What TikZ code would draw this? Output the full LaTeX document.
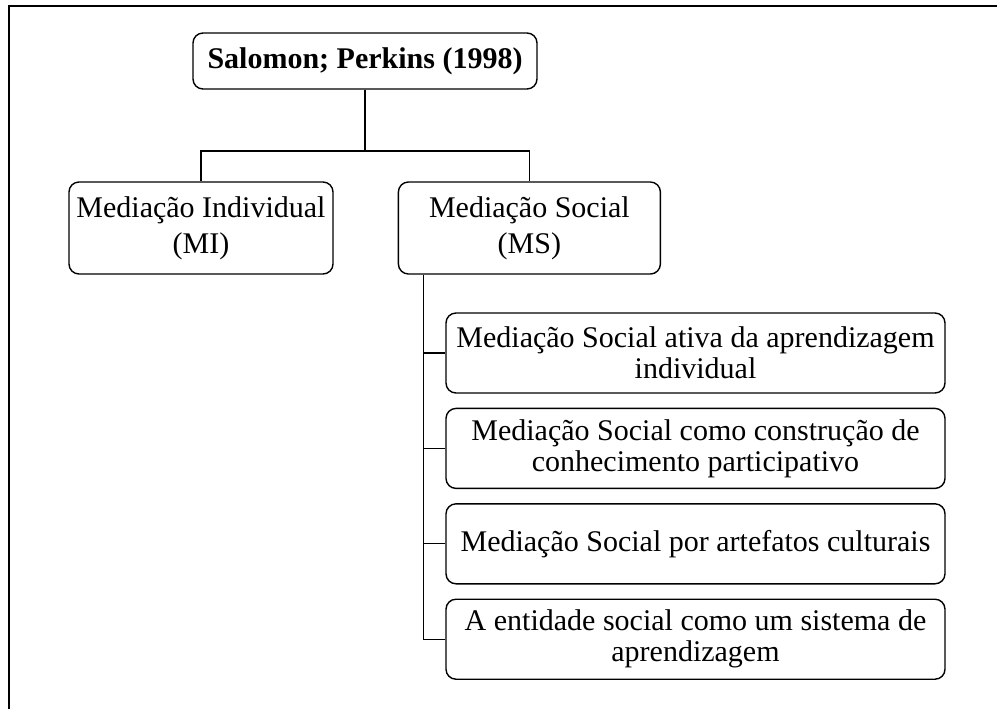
\documentclass[tikz,border=0pt]{standalone}
\usepackage{fontspec}
\setmainfont{Liberation Serif}
\usepackage{tikz}
\usetikzlibrary{positioning}

\begin{document}
\begin{tikzpicture}[
  x=0.5pt, y=-0.5pt,
  node distance=7pt,
  box/.style={rectangle, rounded corners=5pt, draw=black, line width=0.7pt, align=center, font=\fontsize{15}{18}\selectfont, inner sep=2pt},
  topbox/.style={box, font=\fontsize{15}{18}\selectfont\bfseries, minimum width=172pt, minimum height=28pt},
  mainbox/.style={box, minimum width=132pt, minimum height=46pt},
  subbox/.style={box, font=\fontsize{15}{15.5}\selectfont, minimum width=249.5pt, minimum height=40pt},
  link/.style={draw=black, line width=0.6pt}
]
\useasboundingbox (0,0) rectangle (997,709);

% frame
\draw[line width=0.6pt] (9,709) -- (9,6) -- (997,6);

\node (title) [topbox] at (365,61) {Salomon; Perkins (1998)};

\node (mi) [mainbox] at (201,228) {Mediação Individual\\(MI)};
\node (ms) [mainbox, right=32pt of mi, minimum width=131pt] {Mediação Social\\(MS)};

\node (s1) [subbox] at (695.5,353) {Mediação Social ativa da aprendizagem\\individual};
\node (s2) [subbox, below=of s1] {Mediação Social como construção de\\conhecimento participativo};
\node (s3) [subbox, below=of s2] {Mediação Social por artefatos culturais};
\node (s4) [subbox, below=of s3] {A entidade social como um sistema de\\aprendizagem};

\coordinate (split) at (365,151);
\draw[link] (title.south) -- (split);
\draw[link] (mi.north) |- (split) -| (ms.north);

\coordinate (spine) at ([xshift=13pt]ms.south west);
\draw[link] (spine) |- (s4.west);
\foreach \s in {s1,s2,s3}
  \draw[link] (spine |- \s.west) -- (\s.west);

\end{tikzpicture}
\end{document}
